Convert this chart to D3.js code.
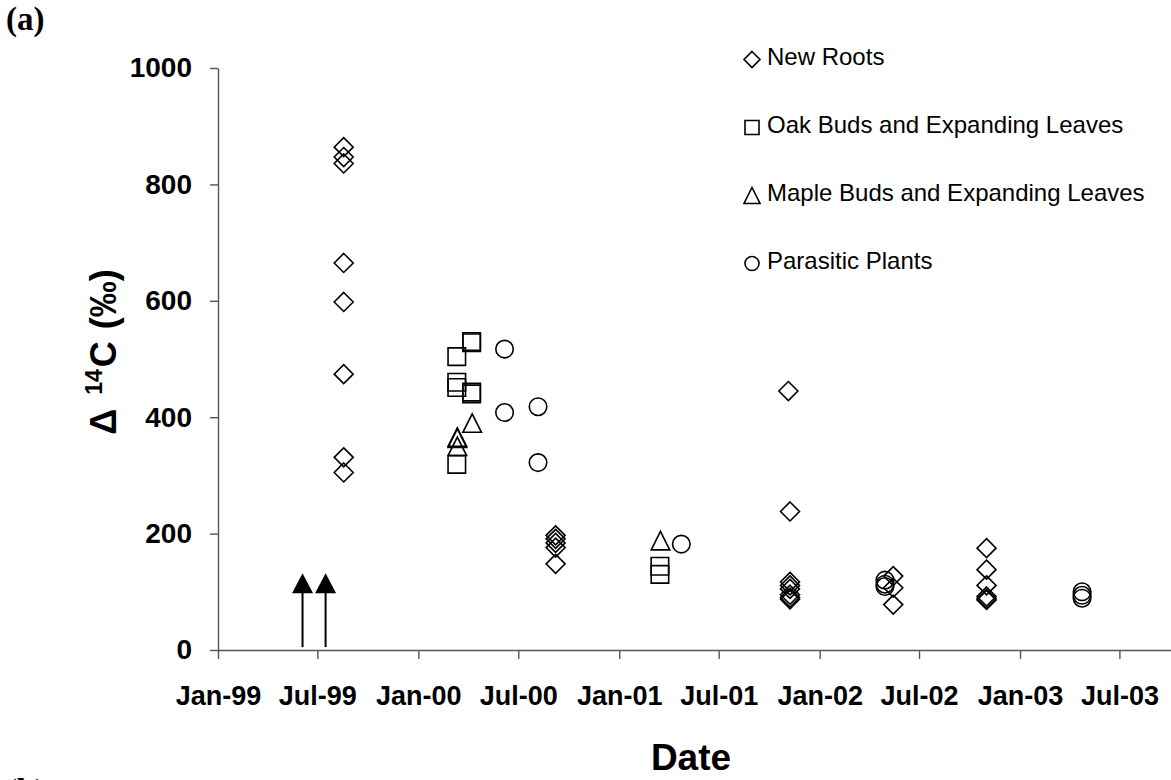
<!DOCTYPE html>
<html><head><meta charset="utf-8">
<script src="https://cdn.jsdelivr.net/npm/d3@7"></script>
<style>body{margin:0;background:#fff}svg{display:block}</style>
</head><body>
<svg id="chart" width="1171" height="780"></svg>
<script>
// ---------- data ----------
const yTicks = [0, 200, 400, 600, 800, 1000];
const yDomain = [0, 1000];
const xDomain = ["1999-01-01", "2003-10-03"];
const xTickDates = ["1999-01-01","1999-07-01","2000-01-01","2000-07-01","2001-01-01","2001-07-01","2002-01-01","2002-07-01","2003-01-01","2003-07-01"];
const xTickLabels = ["Jan-99","Jul-99","Jan-00","Jul-00","Jan-01","Jul-01","Jan-02","Jul-02","Jan-03","Jul-03"];
const seriesNames = ["New Roots","Oak Buds and Expanding Leaves","Maple Buds and Expanding Leaves","Parasitic Plants"];

const newRoots = [
  ["1999-08-18",864],["1999-08-18",847],["1999-08-18",836],["1999-08-18",665],
  ["1999-08-18",598],["1999-08-18",474],["1999-08-18",331],["1999-08-18",305],
  ["2000-09-07",197],["2000-09-07",191],["2000-09-07",184],["2000-09-07",176],["2000-09-07",148],
  ["2001-11-05",445],["2001-11-08",238],["2001-11-08",117],["2001-11-08",111],["2001-11-08",105],
  ["2001-11-08",95],["2001-11-08",90],["2001-11-08",87],
  ["2002-05-15",127],["2002-05-15",107],["2002-05-15",78],
  ["2002-11-01",175],["2002-11-01",138],["2002-11-01",111],["2002-11-01",92],["2002-11-01",88],["2002-11-01",86]
];
const oakBuds = [
  ["2000-03-11",504],["2000-03-11",460],["2000-03-11",451],["2000-03-11",319],
  ["2000-04-07",530],["2000-04-07",528],["2000-04-07",443],["2000-04-07",440],
  ["2001-03-16",144],["2001-03-16",130]
];
const mapleBuds = [
  ["2000-03-12",366],["2000-03-12",364],["2000-03-12",350],
  ["2000-04-08",390],
  ["2001-03-17",188]
];
const parasiticPlants = [
  ["2000-06-06",517],["2000-06-06",408],
  ["2000-08-06",418],["2000-08-06",322],
  ["2001-04-24",182],
  ["2002-04-30",120],["2002-04-30",113],["2002-04-30",109],
  ["2003-04-24",100],["2003-04-24",94],["2003-04-24",89]
];
const arrowDates = ["1999-06-04","1999-07-16"];
const arrowTip = 132;
const arrowFoot = 5;

// ---------- setup ----------
const parse = d3.utcParse("%Y-%m-%d");
const svg = d3.select("#chart");
const FONT = "'Liberation Sans', Arial, sans-serif";

const x = d3.scaleUtc().domain(xDomain.map(parse)).range([218, 1171]);
const y = d3.scaleLinear().domain(yDomain).range([650, 68]);

// shapes (local marker geometry)
const shapes = {
  diamond: s => `M0,${-s/2}L${s/2},0L0,${s/2}L${-s/2},0Z`,
  square: s => `M${-s/2},${-s/2}h${s}v${s}h${-s}Z`,
  triangle: s => `M0,${-s/2}L${s/2},${s/2}L${-s/2},${s/2}Z`,
  circle: s => `M${s/2},0A${s/2},${s/2} 0 1,1 ${-s/2},0A${s/2},${s/2} 0 1,1 ${s/2},0Z`
};
const series = [
  {name: seriesNames[0], data: newRoots, shape: "diamond", size: 19, lsize: 16},
  {name: seriesNames[1], data: oakBuds, shape: "square", size: 17.5, lsize: 14},
  {name: seriesNames[2], data: mapleBuds, shape: "triangle", size: 18.5, lsize: 16},
  {name: seriesNames[3], data: parasiticPlants, shape: "circle", size: 17.5, lsize: 14}
];

// ---------- axes ----------
const yAxis = d3.axisLeft(y).tickValues(yTicks).tickSize(8).tickSizeOuter(0).tickPadding(18).tickFormat(d3.format("d"));
const gy = svg.append("g").attr("transform","translate(218,0)").call(yAxis);
gy.selectAll("text").attr("font-family",FONT).attr("font-weight","bold").attr("font-size",28).attr("fill","#000");

const xAxis = d3.axisBottom(x).tickValues(xTickDates.map(parse)).tickSize(9).tickSizeOuter(0).tickPadding(27)
  .tickFormat((d,i)=>xTickLabels[i]);
const gx = svg.append("g").attr("transform","translate(0,650)").call(xAxis);
gx.selectAll("text").attr("font-family",FONT).attr("font-weight","bold").attr("font-size",27).attr("fill","#000");

svg.selectAll(".domain, .tick line").attr("stroke","#555").attr("stroke-width",1.4);

// ---------- arrows ----------
const ag = svg.append("g");
arrowDates.forEach(ds => {
  const ax = x(parse(ds));
  const tipY = y(arrowTip);
  ag.append("line").attr("x1",ax).attr("x2",ax).attr("y1",y(arrowFoot)).attr("y2",tipY+18)
    .attr("stroke","#000").attr("stroke-width",2);
  ag.append("path").attr("d",`M${ax},${tipY}L${ax+10.5},${tipY+20}L${ax-10.5},${tipY+20}Z`).attr("fill","#000");
});

// ---------- points ----------
series.forEach(s => {
  svg.append("g").selectAll("path").data(s.data).join("path")
    .attr("transform", d => `translate(${x(parse(d[0]))},${y(d[1])})`)
    .attr("d", shapes[s.shape](s.size))
    .attr("fill","none").attr("stroke","#000").attr("stroke-width",1.6);
});

// ---------- legend ----------
const lg = svg.append("g");
series.forEach((s,i) => {
  const by = 65 + i*68;
  lg.append("path").attr("transform",`translate(752,${by-5.5})`).attr("d",shapes[s.shape](s.lsize))
    .attr("fill","none").attr("stroke","#000").attr("stroke-width",1.6);
  lg.append("text").attr("x",767).attr("y",by).text(s.name)
    .attr("font-family",FONT).attr("font-size",24).attr("fill","#000");
});

// ---------- titles ----------
svg.append("text").attr("x",691).attr("y",770).attr("text-anchor","middle")
  .attr("font-family",FONT).attr("font-weight","bold").attr("font-size",37).text("Date");

const yt = svg.append("text").attr("transform","translate(116,352) rotate(-90)").attr("text-anchor","middle")
  .attr("font-family",FONT).attr("font-weight","bold").attr("font-size",36);
yt.append("tspan").text("Δ");
yt.append("tspan").attr("font-size",23).attr("dx",14).attr("dy",-14).text("14");
yt.append("tspan").attr("dy",14).attr("dx",2).text("C");
yt.append("tspan").attr("dx",12).text("(‰)");

svg.append("text").attr("x",6).attr("y",30).attr("font-family","'Liberation Serif','Times New Roman',serif")
  .attr("font-weight","bold").attr("font-size",33).text("(a)");
svg.append("text").attr("x",6).attr("y",802).attr("font-family","'Liberation Serif','Times New Roman',serif")
  .attr("font-weight","bold").attr("font-size",33).text("(b)");
</script>
</body></html>
